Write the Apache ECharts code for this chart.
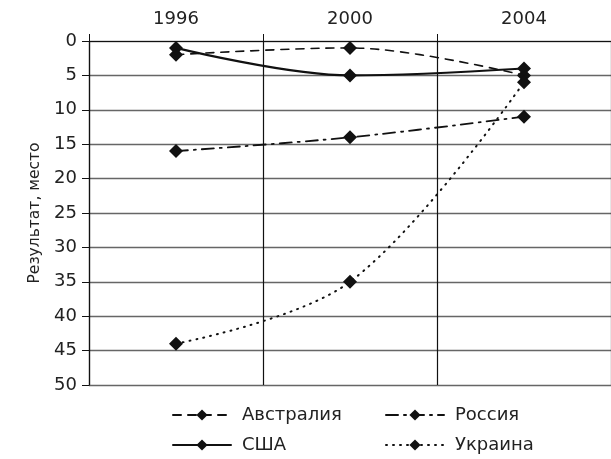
<!DOCTYPE html>
<html>
<head>
<meta charset="utf-8">
<script src="https://cdn.jsdelivr.net/npm/echarts@6/dist/echarts.min.js"></script>
<style>
  html, body { margin: 0; padding: 0; background: #fff; }
  #chart { width: 611px; height: 459px; }
</style>
</head>
<body>
<div id="chart"></div>
<script>
// годы
const years = ['1996', '2000', '2004']
// места по странам
const australia = [2, 1, 5]
const usa = [1, 5, 4]
const russia = [16, 14, 11]
const ukraine = [44, 35, 6]

const font = 'DejaVu Sans, sans-serif'
const chart = echarts.init(document.getElementById('chart'))

function line (name, data, type, width) {
  return {
    name: name,
    type: 'line',
    data: data,
    smooth: 0.35,
    symbol: 'diamond',
    symbolSize: 14,
    itemStyle: { color: '#111' },
    lineStyle: { color: '#111', width: width, type: type, cap: 'round' }
  }
}

const legendText = { color: '#222', fontSize: 18, fontFamily: font, padding: [0, 0, 0, 6] }

const option = {
  animation: false,
  grid: { left: 89, right: 0, top: 41, bottom: 74 },
  xAxis: {
    type: 'category',
    position: 'top',
    data: years,
    boundaryGap: true,
    axisLine: { lineStyle: { color: '#111', width: 1 } },
    axisTick: { show: true, length: 7, lineStyle: { color: '#111' } },
    axisLabel: { color: '#222', fontSize: 18, fontFamily: font, margin: 13 },
    splitLine: { show: true, lineStyle: { color: '#111', width: 1.2 } }
  },
  yAxis: {
    type: 'value',
    inverse: true,
    min: 0,
    max: 50,
    interval: 5,
    name: 'Результат, место',
    nameLocation: 'middle',
    nameGap: 46,
    nameTextStyle: { color: '#222', fontSize: 15.5, fontFamily: font },
    axisLine: { show: true, lineStyle: { color: '#111', width: 1.2 } },
    axisTick: { show: true, length: 7, lineStyle: { color: '#111' } },
    axisLabel: { color: '#222', fontSize: 18, fontFamily: font, margin: 12 },
    splitLine: { show: true, lineStyle: { color: '#666', width: 1.3 } }
  },
  legend: [
    {
      data: ['Австралия', 'США'],
      orient: 'vertical',
      left: 167,
      top: 401,
      itemWidth: 58,
      itemHeight: 14,
      itemGap: 12,
      textStyle: legendText
    },
    {
      data: ['Россия', 'Украина'],
      orient: 'vertical',
      left: 380,
      top: 401,
      itemWidth: 58,
      itemHeight: 14,
      itemGap: 12,
      textStyle: legendText
    }
  ],
  series: [
    line('Австралия', australia, [8, 7], 1.6),
    line('США', usa, 'solid', 2.2),
    line('Россия', russia, [12, 6, 2, 6], 1.8),
    line('Украина', ukraine, [1, 6], 2)
  ]
}
chart.setOption(option)
</script>
</body>
</html>
